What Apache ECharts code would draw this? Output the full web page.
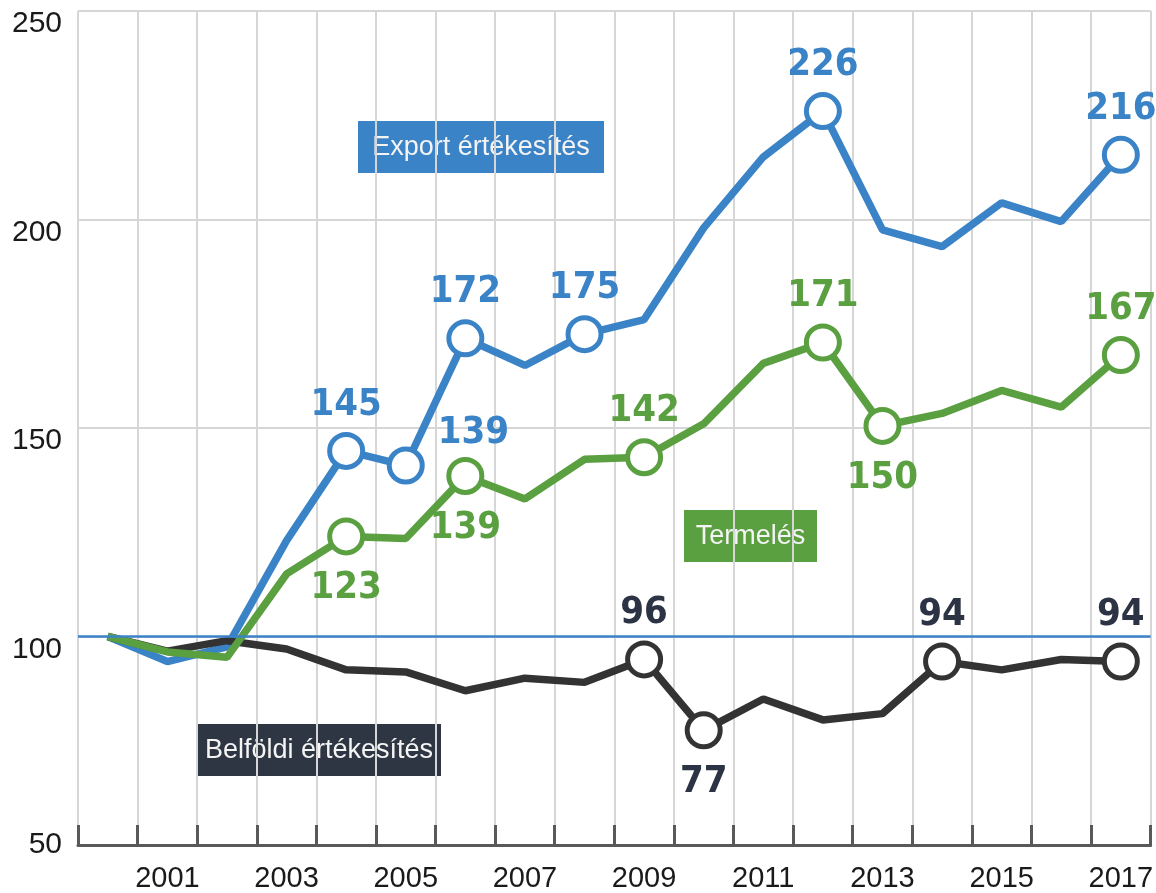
<!DOCTYPE html>
<html>
<head>
<meta charset="utf-8">
<title>Export, termelés, belföldi értékesítés</title>
<script src="https://cdn.jsdelivr.net/npm/echarts@6/dist/echarts.min.js"></script>
<style>
  html, body { margin: 0; padding: 0; background: #fff; }
  #chart { width: 1156px; height: 893px; }
</style>
</head>
<body>
<div id="chart"></div>
<script>
const years = ['2000', '2001', '2002', '2003', '2004', '2005', '2006', '2007', '2008',
  '2009', '2010', '2011', '2012', '2013', '2014', '2015', '2016', '2017']

const exportVals = [100, 94, 97.5, 123, 144.5, 141, 171.5, 165, 172.5, 176, 198, 215, 226, 197.5, 193.5, 204, 199.5, 215.5]
const prodVals = [100, 96.3, 95, 115, 124, 123.5, 138.5, 133, 142.5, 143, 151, 165.5, 170.5, 150.5, 153.5, 159, 155, 167.5]
const domVals = [100, 96.5, 99, 97, 92, 91.5, 87, 90, 89, 94.5, 77.5, 85, 80, 81.5, 94, 92, 94.5, 94]

// printed labels ('' = marker without label, null = no marker)
const exportLabels = [null, null, null, null, '145', '', '172', null, '175', null, null, null, '226', null, null, null, null, '216']
const prodLabels = [null, null, null, null, '123', null, '139', null, null, '142', null, null, '171', '150', null, null, null, '167']
const domLabels = [null, null, null, null, null, null, null, null, null, '96', '77', null, null, null, '94', null, null, '94']
const prodBelow = [4, 6, 13]
const domBelow = [10]

const blue = '#3b83c7'
const green = '#5a9f40'
const dark = '#333333'
const darkText = '#2b3344'

const valueFont = "'DejaVu Sans Condensed', 'Liberation Sans', sans-serif"
const plainFont = "'Liberation Sans', Arial, sans-serif"

function buildData(vals, labels, below, color) {
  return vals.map((v, i) => {
    if (labels[i] === null) return { value: v, symbol: 'none' }
    const isBelow = below.indexOf(i) >= 0
    return {
      value: v,
      symbol: 'circle',
      label: {
        show: labels[i] !== '',
        position: isBelow ? 'bottom' : 'top',
        distance: isBelow ? 14 : 8,
        formatter: labels[i],
        color: color,
        fontFamily: valueFont,
        fontWeight: 'bold',
        fontSize: 38,
      },
    }
  })
}

function lineSeries(name, vals, labels, below, lineColor, textColor) {
  return {
    name,
    type: 'line',
    data: buildData(vals, labels, below, textColor),
    showAllSymbol: true,
    symbolSize: 33,
    lineStyle: { color: lineColor, width: 7.5 },
    itemStyle: { color: '#fff', borderColor: lineColor, borderWidth: 5 },
    emphasis: { disabled: true },
  }
}

const chart = echarts.init(document.getElementById('chart'))

const exportSeries = lineSeries('Export értékesítés', exportVals, exportLabels, [], blue, blue)
exportSeries.markLine = {
  silent: true,
  symbol: ['none', 'none'],
  label: { show: false },
  lineStyle: { color: blue, width: 2.5, type: 'solid' },
  data: [{ yAxis: 100 }],
}

const prodSeries = lineSeries('Termelés', prodVals, prodLabels, prodBelow, green, green)
prodSeries.markPoint = {
  silent: true,
  symbolSize: 0,
  data: [{ coord: [years[6], prodVals[6]], value: prodLabels[6] }],
  label: {
    show: true,
    position: 'top',
    distance: 24,
    offset: [8, 0],
    formatter: '{c}',
    color: blue,
    fontFamily: valueFont,
    fontWeight: 'bold',
    fontSize: 38,
  },
}

const domSeries = lineSeries('Belföldi értékesítés', domVals, domLabels, domBelow, dark, darkText)

function tag(text, x, y, w, bg) {
  return {
    type: 'group',
    left: x,
    top: y,
    z: 10,
    children: [
      { type: 'rect', shape: { x: 0, y: 0, width: w, height: 52 }, style: { fill: bg } },
      {
        type: 'text',
        x: w / 2,
        y: 27,
        style: {
          text: text,
          fill: '#f4f4f4',
          font: '27px ' + plainFont,
          align: 'center',
          verticalAlign: 'middle',
        },
      },
    ],
  }
}

chart.setOption({
  animation: false,
  grid: { left: 78, right: 2, top: 11, bottom: 48 },
  xAxis: {
    type: 'category',
    data: years,
    boundaryGap: true,
    axisLine: { lineStyle: { color: '#595959', width: 3 } },
    axisTick: { show: true, inside: true, length: 20, interval: 0, lineStyle: { color: '#595959', width: 3 } },
    splitLine: { show: true, interval: 0, lineStyle: { color: '#d6d6d6', width: 2 } },
    axisLabel: {
      interval: (i) => i % 2 === 1,
      margin: 19,
      color: '#1a1a1a',
      fontSize: 29,
      fontFamily: plainFont,
    },
  },
  yAxis: {
    type: 'value',
    min: 50,
    max: 250,
    interval: 50,
    axisLine: { show: false },
    axisTick: { show: false },
    splitLine: { lineStyle: { color: '#d6d6d6', width: 2 } },
    axisLabel: {
      margin: 16,
      color: '#1a1a1a',
      fontSize: 30,
      fontFamily: plainFont,
      formatter: (v) => (v === 50 ? '{c|' + v + '}' : '{s|' + v + '}'),
      rich: {
        c: { fontSize: 30, fontFamily: plainFont, color: '#1a1a1a' },
        s: { fontSize: 30, fontFamily: plainFont, color: '#1a1a1a', padding: [26, 0, 0, 0] },
      },
    },
  },
  series: [exportSeries, domSeries, prodSeries],
  graphic: [
    tag('Export értékesítés', 358, 121, 246, blue),
    tag('Termelés', 684, 510, 133, green),
    tag('Belföldi értékesítés', 197, 724, 244, '#2f3643'),
  ],
})
</script>
</body>
</html>
